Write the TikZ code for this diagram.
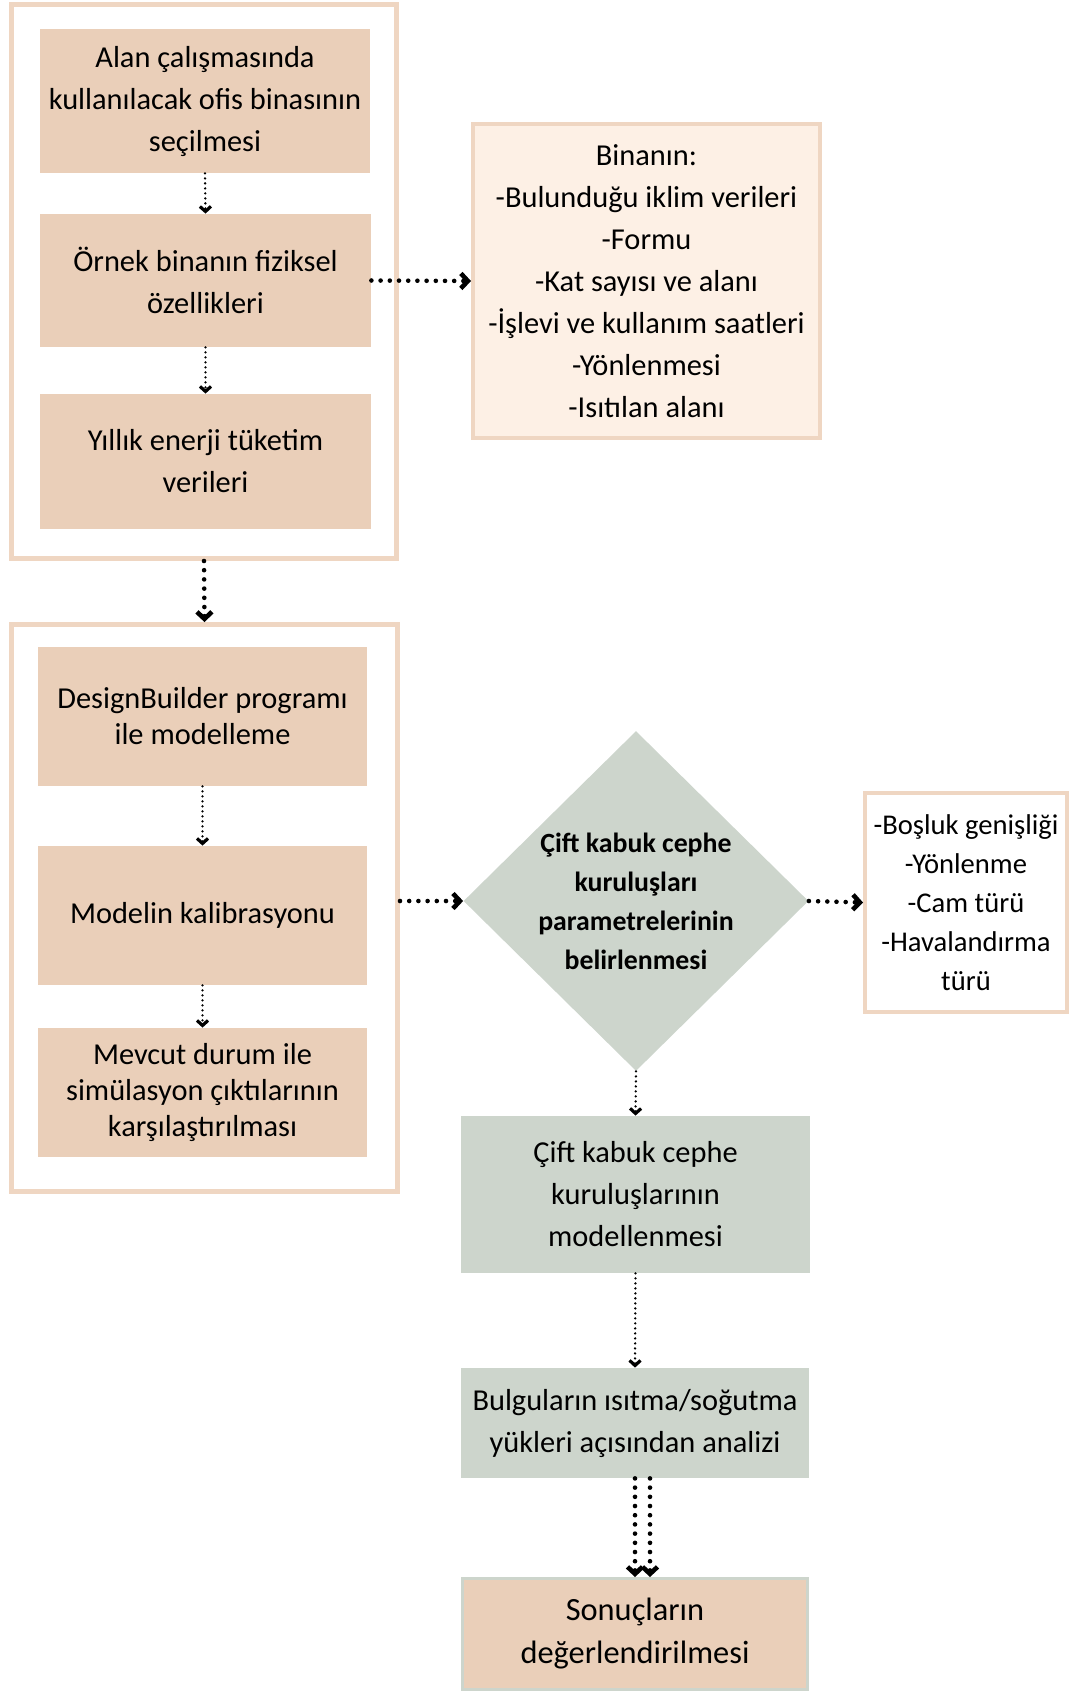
\documentclass[tikz,border=0pt]{standalone}
\usepackage{fontspec}
\setmainfont{Carlito}
\usetikzlibrary{arrows.meta,shapes.geometric}
\definecolor{tan}{HTML}{EACFB9}
\definecolor{frame}{HTML}{EFD6C2}
\definecolor{pale}{HTML}{FDF0E5}
\definecolor{sage}{HTML}{CDD5CC}
\tikzset{
  tanbox/.style={fill=tan, draw=none, inner sep=0pt, align=center, font=\fontsize{15.2}{21}\selectfont},
  sagebox/.style={fill=sage, draw=none, inner sep=0pt, align=center, font=\fontsize{15.2}{21}\selectfont},
  framebox/.style={draw=frame, line width=2.5pt, fill=none, inner sep=0pt},
  fineflow/.style={line width=1.3pt, dash pattern=on 0pt off 2.5pt, line cap=round, -{Straight Barb[length=2.5pt,width=5.5pt,line width=1.6pt]}},
  boldflow/.style={line width=2.3pt, dash pattern=on 0pt off 4.6pt, line cap=round, -{Straight Barb[length=3.5pt,width=7.5pt,line width=2.3pt]}},
}
\begin{document}
\begin{tikzpicture}[x=0.5pt,y=-0.5pt]
\useasboundingbox (0,0) rectangle (1071,1692);
% frames
\node[framebox, minimum width=192.5pt, minimum height=277pt] (F1) at (204,281.5) {};
\node[framebox, minimum width=193pt, minimum height=283.5pt] (F2) at (204.5,908) {};
% group 1
\node[tanbox, minimum width=165pt, minimum height=72pt] (A) at (205,101) {Alan çalışmasında\\kullanılacak ofis binasının\\seçilmesi};
\node[tanbox, minimum width=165.5pt, minimum height=66.5pt] (B) at (205.5,280.5) {Örnek binanın fiziksel\\özellikleri};
\node[tanbox, minimum width=165.5pt, minimum height=67.5pt] (C) at (205.5,461.5) {Yıllık enerji tüketim\\verileri};
\node[fill=pale, draw=frame, line width=2pt, inner sep=0pt, align=center, font=\fontsize{15.2}{21}\selectfont, minimum width=173.5pt, minimum height=157pt] (D) at (646.5,281) {Binanın:\\-Bulunduğu iklim verileri\\-Formu\\-Kat sayısı ve alanı\\-İşlevi ve kullanım saatleri\\-Yönlenmesi\\-Isıtılan alanı};
% group 2
\node[tanbox, minimum width=164.5pt, minimum height=69.5pt, font=\fontsize{15.2}{18}\selectfont] (E) at (202.5,716.5) {DesignBuilder programı\\ile modelleme};
\node[tanbox, minimum width=164.5pt, minimum height=69.5pt] (F) at (202.5,915.5) {Modelin kalibrasyonu};
\node[tanbox, minimum width=164.5pt, minimum height=64.5pt, font=\fontsize{15.2}{18}\selectfont] (G) at (202.5,1092.5) {Mevcut durum ile\\simülasyon çıktılarının\\karşılaştırılması};
% diamond
\node[diamond, fill=sage, draw=none, inner sep=0pt, minimum width=172.5pt, minimum height=170pt] (P) at (636,901) {};
\node[align=center, font=\bfseries\fontsize{13.9}{19.5}\selectfont] (Pt) at (P.center) {Çift kabuk cephe\\kuruluşları\\parametrelerinin\\belirlenmesi};
\node[fill=white, draw=frame, line width=2pt, inner sep=0pt, align=center, font=\fontsize{14.3}{19.5}\selectfont, minimum width=101pt, minimum height=109.5pt] (H) at (966,902.5) {-Boşluk genişliği\\-Yönlenme\\-Cam türü\\-Havalandırma\\türü};
\node[sagebox, minimum width=174.5pt, minimum height=78.5pt] (I) at (635.5,1194.5) {Çift kabuk cephe\\kuruluşlarının\\modellenmesi};
\node[sagebox, minimum width=174pt, minimum height=55pt] (J) at (635,1423) {Bulguların ısıtma/soğutma\\yükleri açısından analizi};
\node[fill=tan, draw=sage, line width=1.5pt, inner sep=0pt, align=center, font=\fontsize{16.2}{21.5}\selectfont, minimum width=172.5pt, minimum height=55.5pt] (K) at (635,1634) {Sonuçların\\değerlendirilmesi};
% connectors
\draw[fineflow] (A.south) -- (B.north);
\draw[fineflow] (B.south) -- (C.north);
\draw[boldflow] (B.east) -- (D.west);
\draw[boldflow] (F1.south) -- (F2.north);
\draw[fineflow] (E.south) -- (F.north);
\draw[fineflow] (F.south) -- (G.north);
\draw[boldflow] (F2.east |- P.west) -- (P.west);
\draw[boldflow] (P.east) -- (H.west);
\draw[fineflow] (P.south) -- (I.north);
\draw[fineflow] (I.south) -- (J.north);
\draw[boldflow] (J.south) -- (K.north);
\draw[boldflow] ([xshift=7.5pt]J.south) -- ([xshift=7.5pt]K.north);
\end{tikzpicture}
\end{document}
